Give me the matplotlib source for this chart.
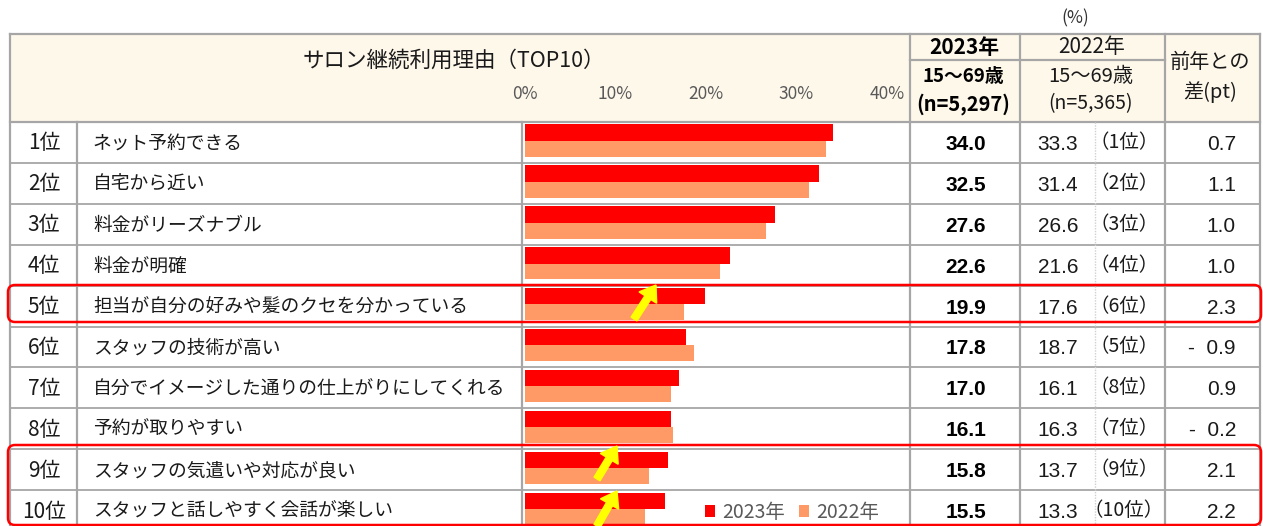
import matplotlib.pyplot as plt
import matplotlib.patches as mpatches
from matplotlib.patches import FancyBboxPatch, FancyArrow

plt.rcParams['font.family'] = ['Noto Sans CJK JP', 'DejaVu Sans']

# data
items = ["ネット予約できる", "自宅から近い", "料金がリーズナブル", "料金が明確",
         "担当が自分の好みや髪のクセを分かっている", "スタッフの技術が高い",
         "自分でイメージした通りの仕上がりにしてくれる", "予約が取りやすい",
         "スタッフの気遣いや対応が良い", "スタッフと話しやすく会話が楽しい"]
v2023 = [34.0, 32.5, 27.6, 22.6, 19.9, 17.8, 17.0, 16.1, 15.8, 15.5]
v2022 = [33.3, 31.4, 26.6, 21.6, 17.6, 18.7, 16.1, 16.3, 13.7, 13.3]
rank2022 = [1, 2, 3, 4, 6, 5, 8, 7, 9, 10]
diff = [0.7, 1.1, 1.0, 1.0, 2.3, -0.9, 0.9, -0.2, 2.1, 2.2]
ticks = [0, 10, 20, 30, 40]

RED = '#FF0000'
SALMON = '#FF9966'
GRID = '#A6A6A6'
CREAM = '#FEF8EB'
GREY_TXT = '#595959'
TXT = '#1A1A1A'
NUM_FONT = ['Liberation Sans', 'DejaVu Sans']

W, H = 1263, 526
top, row_h = 122, 40.9

fig = plt.figure(figsize=(W / 100, H / 100), dpi=100)
base = fig.add_axes([0, 0, 1, 1])
base.set_xlim(0, W)
base.set_ylim(H, 0)
base.axis('off')

# header background
base.add_patch(mpatches.Rectangle((10, 34), 1250, top - 34, facecolor=CREAM, edgecolor='none', zorder=0))

# grid lines
bottom = top + row_h * 10
base.plot([10, 1260], [34, 34], color=GRID, lw=1.6)
base.plot([10, 1260], [top, top], color=GRID, lw=1.6)
for i in range(1, 10):
    y = top + i * row_h
    base.plot([10, 1260], [y, y], color=GRID, lw=1.3)
for x in [10, 910, 1020, 1165, 1260]:
    base.plot([x, x], [34, bottom], color=GRID, lw=1.6)
for x in [77, 522]:
    base.plot([x, x], [top, bottom], color=GRID, lw=1.6)
base.plot([1095, 1095], [top, bottom], color='#D0D0D0', lw=1, ls=(0, (1, 1)))
base.plot([910, 1165], [60, 60], color=GRID, lw=1.6)

# header texts
base.text(454, 61, "サロン継続利用理由（TOP10）", ha='center', va='center', fontsize=15.5, color=TXT)
base.text(1075, 18, "(%)", ha='center', va='center', fontsize=12.5, color='#333333')
base.text(964, 47, "2023年", ha='center', va='center', fontsize=15, fontweight='bold', color='black')
base.text(963, 76, "15〜69歳", ha='center', va='center', fontsize=13.5, fontweight='bold', color='black')
base.text(963, 104, "(n=5,297)", ha='center', va='center', fontsize=14.5, fontweight='bold', color='black')
base.text(1092, 47, "2022年", ha='center', va='center', fontsize=15, color=TXT)
base.text(1091, 76, "15〜69歳", ha='center', va='center', fontsize=14.5, color=TXT)
base.text(1090, 104, "(n=5,365)", ha='center', va='center', fontsize=14, color=TXT)
base.text(1210, 62, "前年との", ha='center', va='center', fontsize=14.5, color=TXT)
base.text(1210, 92, "差(pt)", ha='center', va='center', fontsize=14.5, color=TXT)

# row texts
for i in range(10):
    yc = top + (i + 0.5) * row_h + 1
    base.text(44, yc, f"{i + 1}位", ha='center', va='center', fontsize=15, color=TXT)
    base.text(93, yc, items[i], ha='left', va='center', fontsize=13.5, color=TXT)
    base.text(966, yc + 1, f"{v2023[i]:.1f}", ha='center', va='center', fontsize=15,
              fontweight='bold', family=NUM_FONT, color='black')
    base.text(1058, yc + 1, f"{v2022[i]:.1f}", ha='center', va='center', fontsize=15,
              family=NUM_FONT, color=TXT)
    base.text(1124, yc - 1, f"（{rank2022[i]}位）", ha='center', va='center', fontsize=14, color=TXT)
    d = diff[i]
    dtxt = f"{d:.1f}" if d >= 0 else f"-  {abs(d):.1f}"
    base.text(1236, yc + 1, dtxt, ha='right', va='center', fontsize=15, family=NUM_FONT, color=TXT)

# bar chart axes
x0, x40 = 525, 887
ax = fig.add_axes([x0 / W, (H - bottom) / H, (x40 - x0) / W, (bottom - top) / H])
ax.patch.set_alpha(0)
ax.set_xlim(0, 40)
ax.set_ylim(10, 0)
pos = list(range(10))
ax.barh([p + 0.26 for p in pos], v2023, height=0.40, color=RED, label="2023年")
ax.barh([p + 0.655 for p in pos], v2022, height=0.39, color=SALMON, label="2022年")
for s in ax.spines.values():
    s.set_visible(False)
ax.xaxis.tick_top()
ax.set_xticks(ticks)
ax.set_xticklabels([f"{t}%" for t in ticks], fontsize=12.5, color=GREY_TXT)
ax.tick_params(axis='x', length=0, pad=14)
ax.set_yticks([])
ax.legend(loc='lower right', bbox_to_anchor=(1.0, 0.0), ncol=2, frameon=False,
          fontsize=14, labelcolor=GREY_TXT, handlelength=0.55, handleheight=0.55,
          handletextpad=0.35, columnspacing=0.7, borderpad=0.2, borderaxespad=0.2)

# overlay for highlight boxes and arrows
over = fig.add_axes([0, 0, 1, 1])
over.set_xlim(0, W)
over.set_ylim(H, 0)
over.axis('off')
over.patch.set_alpha(0)
for (y0, y1) in [(285, 322), (445, 525)]:
    over.add_patch(FancyBboxPatch((8, y0), 1253, y1 - y0, boxstyle="round,pad=0,rounding_size=7",
                                  facecolor='none', edgecolor=RED, lw=1.8))
for (tx, ty, hx, hy) in [(634, 319, 656, 285), (597, 479, 617, 446), (597, 526, 617, 491)]:
    over.add_patch(FancyArrow(tx, ty, hx - tx, hy - ty, width=7, head_width=21, head_length=15,
                              length_includes_head=True, color='#FFFF00'))

fig.savefig("out.png", dpi=100)
